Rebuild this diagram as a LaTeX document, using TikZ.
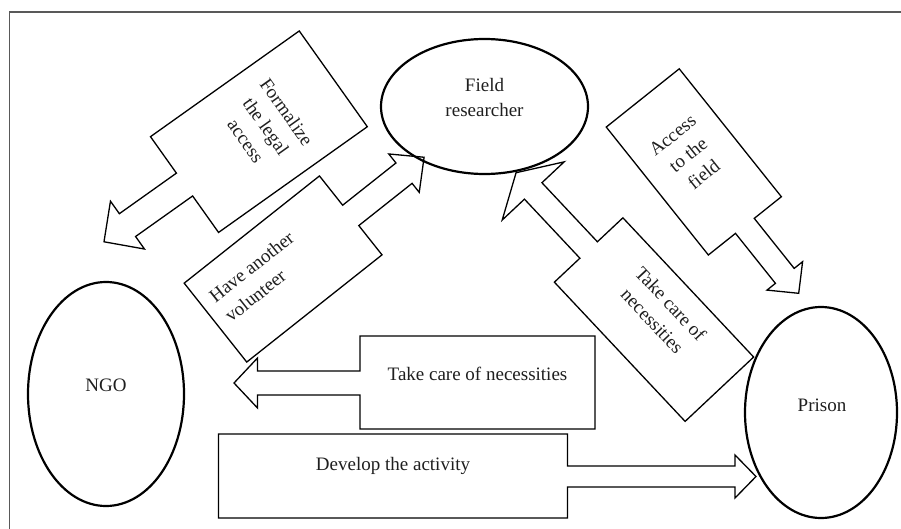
\documentclass[tikz,border=0pt]{standalone}
\usepackage{fontspec}
\setmainfont{Liberation Serif}
\usetikzlibrary{shapes.geometric}
\begin{document}
\begin{tikzpicture}[x=1pt,y=-1pt,
  lbl/.style={font=\fontsize{19}{25}\selectfont, text=black!88, inner sep=0pt},
  oval/.style={ellipse, draw=black, line width=2.2pt, inner sep=0pt},
  callbox/.style={draw=black, line width=1.3pt, fill=white, line join=miter},
  framestyle/.style={draw=black!65, line width=1.6pt}
]
\useasboundingbox (0,0) rectangle (901,529);
\draw[framestyle] (9.5,529) -- (9.5,12) -- (901,12);

% Formalize the legal access (arrow to NGO)
\begin{scope}[shift={(258.9,131.7)}, rotate=-54.6]
\draw[callbox] (-58.75,-91.25) -- (58.75,-91.25) -- (58.75,91.25) -- (14,91.25) -- (14,161.25) -- (29.35,161.25) -- (0,190.05) -- (-29.35,161.25) -- (-14,161.25) -- (-14,91.25) -- (-58.75,91.25) -- cycle;
\node[lbl, align=center, rotate=-54.6] (formalize) at (0,-9) {Formalize\\the legal\\access};
\end{scope}

% Have another volunteer (arrow to field researcher)
\begin{scope}[shift={(283.1,269)}, rotate=38.4]
\draw[callbox] (-86.3,-50.35) -- (86.3,-50.35) -- (86.3,-13) -- (154.3,-13) -- (154.3,-24.5) -- (179.9,0) -- (154.3,24.5) -- (154.3,13) -- (86.3,13) -- (86.3,50.35) -- (-86.3,50.35) -- cycle;
\node[lbl, align=left, anchor=west, rotate=38.4] (volunteer) at (-74.5,-9) {Have another\\volunteer};
\end{scope}

% Take care of necessities (diagonal, arrow to field researcher)
\begin{scope}[shift={(654,319.6)}, rotate=-46.8]
\draw[callbox] (95.5,-47) -- (95.5,47) -- (-95.5,47) -- (-95.5,12) -- (-176.5,12) -- (-176.5,42.5) -- (-201.5,0) -- (-176.5,-42.5) -- (-176.5,-12) -- (-95.5,-12) -- (-95.5,-47) -- cycle;
\node[lbl, align=center, rotate=-46.8] (necdiag) at (0,-10.5) {Take care of\\necessities};
\end{scope}

% Access to the field (arrow to prison)
\begin{scope}[shift={(693.8,161.9)}, rotate=38.6]
\draw[callbox] (-46.7,-81.85) -- (46.7,-81.85) -- (46.7,81.85) -- (12,81.85) -- (12,145.85) -- (22.8,145.85) -- (0,168.15) -- (-22.8,145.85) -- (-12,145.85) -- (-12,81.85) -- (-46.7,81.85) -- cycle;
\node[lbl, align=center, rotate=38.6] (access) at (0,-9) {Access\\to the\\field};
\end{scope}

% Take care of necessities (horizontal, arrow to NGO)
\draw[callbox] (595,336) -- (595,429) -- (360,429) -- (360,395) -- (257.5,395) -- (257.5,408) -- (234,383) -- (257.5,358) -- (257.5,371) -- (360,371) -- (360,336) -- cycle;
\node[lbl] (nechor) at (477.5,373.5) {Take care of necessities};

% Develop the activity (arrow to prison)
\draw[callbox] (218.5,434) -- (567.5,434) -- (567.5,466) -- (735,466) -- (735,455) -- (756,476.5) -- (735,498) -- (735,487) -- (567.5,487) -- (567.5,518) -- (218.5,518) -- cycle;
\node[lbl] (develop) at (393,466) {Develop the activity};

% Actors
\node[oval, minimum width=207pt, minimum height=135pt] (field) at (484.5,106.5) {};
\node[lbl, align=center] (fieldtxt) at (484.5,98) {Field\\researcher};
\node[oval, minimum width=156pt, minimum height=224pt] (ngo) at (106,394) {};
\node[lbl] (ngotxt) at (106,385) {NGO};
\node[oval, minimum width=152pt, minimum height=211pt] (prison) at (821,412.5) {};
\node[lbl] (prisontxt) at (822,405) {Prison};
\end{tikzpicture}
\end{document}
